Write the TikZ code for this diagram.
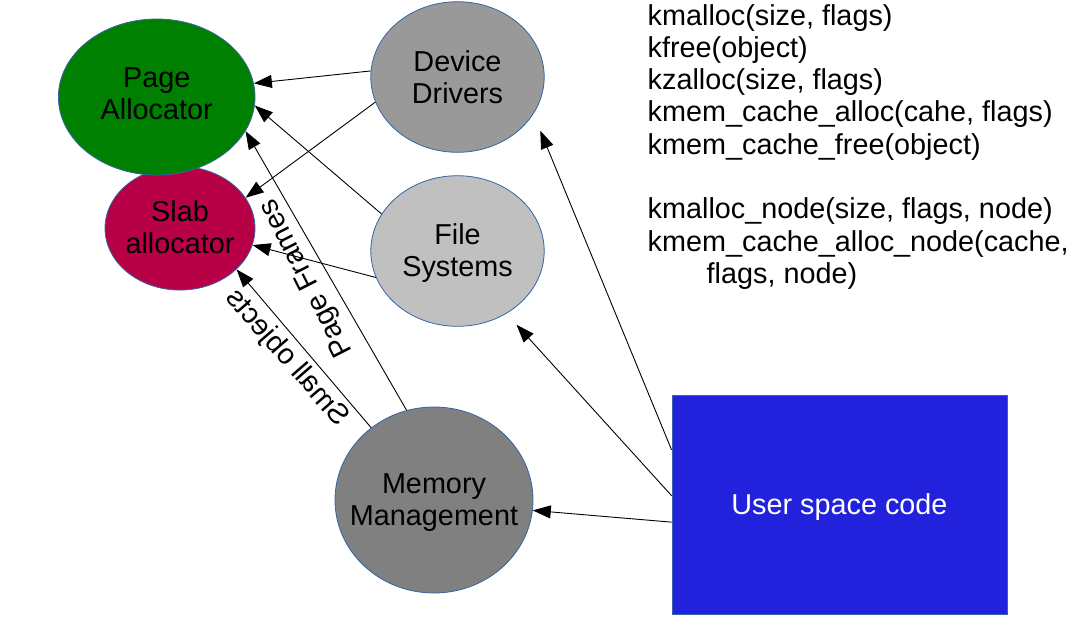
\documentclass[tikz,border=0pt]{standalone}
\usepackage{fontspec}
\setmainfont{Liberation Sans}
\usetikzlibrary{shapes.geometric,arrows.meta}
\definecolor{pagegreen}{HTML}{008000}
\definecolor{slabred}{HTML}{B80047}
\definecolor{ddgray}{HTML}{999999}
\definecolor{fsgray}{HTML}{C0C0C0}
\definecolor{mmgray}{HTML}{808080}
\definecolor{userblue}{HTML}{2222DD}
\definecolor{edgeblue}{HTML}{3465A4}
\begin{document}
\begin{tikzpicture}[x=1pt,y=-1pt,
  every node/.style={font=\fontsize{28.8}{32.3}\selectfont},
  blob/.style={ellipse, draw=edgeblue, line width=0.8pt, inner sep=0pt},
  lbl/.style={align=center, inner sep=0pt},
  conn/.style={-{Triangle[length=18pt,width=13pt]}, line width=0.9pt},
  code/.style={anchor=base west, inner sep=0pt}]
\useasboundingbox (0,0) rectangle (1082,630);
% nodes
\node[blob, fill=slabred, minimum width=150pt, minimum height=123.5pt,
  label={[lbl,yshift=0.8pt]center:Slab\\allocator}] (sa) at (180,228.3) {};
\node[blob, fill=pagegreen, minimum width=196.6pt, minimum height=156pt,
  label={[lbl,yshift=3pt]center:Page\\Allocator}] (pa) at (156.7,97) {};
\node[blob, fill=ddgray, minimum width=173.4pt, minimum height=150.6pt,
  label={[lbl]center:Device\\Drivers}] (dd) at (457.5,77) {};
\node[blob, fill=fsgray, minimum width=173.4pt, minimum height=150.6pt,
  label={[lbl,yshift=-1.75pt]center:File\\Systems}] (fs) at (457.5,251) {};
\node[blob, fill=mmgray, minimum width=198pt, minimum height=186pt,
  label={[lbl,yshift=-2.5pt]center:Memory\\Management}] (mm) at (434,500) {};
\node[draw=edgeblue, line width=0.8pt, fill=userblue, text=white,
  text depth=0pt, minimum width=335pt, minimum height=219pt] (us) at (839.5,504.5) {User space code};
% connectors
\draw[conn] (dd.176.7) -- (pa.8.7);
\draw[conn] (dd.197.9) -- (sa.25.7);
\draw[conn] (fs.154.6) -- (pa.-5.75);
\draw[conn] (fs.198.5) -- (sa.-13.65);
\draw[conn] (mm.107.3) -- (pa.-21.8);
\draw[conn] (mm.131.2) -- (sa.-36.8);
\draw[conn, shorten >=18pt] (us.162.6) -- (dd.-26.2);
\draw[conn, shorten >=15pt] (us.177.4) -- (fs.-52.4);
\draw[conn] (us.186) -- (mm.-6.8);
% connector labels
\node[rotate=117, inner sep=0pt] (pf) at (307,278) {Page Frames};
\node[rotate=131, yscale=-1, inner sep=0pt] (so) at (287,358) {Small objects};
% API list
\node[code] (l1) at (647.5,25) {kmalloc(size, flags)};
\node[code] (l2) at (647.5,57.3) {kfree(object)};
\node[code] (l3) at (647.5,89.6) {kzalloc(size, flags)};
\node[code] (l4) at (647.5,121.9) {kmem\_cache\_alloc(cahe, flags)};
\node[code] (l5) at (647.5,154.2) {kmem\_cache\_free(object)};
\node[code] (l6) at (647.5,218.8) {kmalloc\_node(size, flags, node)};
\node[code] (l7) at (647.5,251.1) {kmem\_cache\_alloc\_node(cache,};
\node[code] (l8) at (706.5,283.4) {flags, node)};
\end{tikzpicture}
\end{document}
